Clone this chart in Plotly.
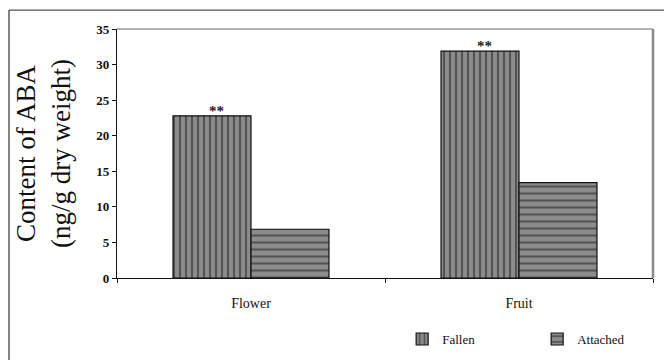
import plotly.graph_objects as go

categories = ["Flower", "Fruit"]
fallen = [22.8, 31.9]
attached = [6.85, 13.4]
sig_labels = ["**", "**"]
y_ticks = [0, 5, 10, 15, 20, 25, 30, 35]

serif = "Liberation Serif, Times New Roman, serif"

fig = go.Figure()
fig.add_trace(go.Bar(
    x=categories, y=fallen, name="Fallen",
    marker=dict(color="#8a8a8a", line=dict(color="#111111", width=1.2),
                pattern=dict(shape="|", fgcolor="#1a1a1a", bgcolor="#8c8c8c", size=6, solidity=0.35)),
))
fig.add_trace(go.Bar(
    x=categories, y=attached, name="Attached",
    marker=dict(color="#8a8a8a", line=dict(color="#111111", width=1.2),
                pattern=dict(shape="-", fgcolor="#1a1a1a", bgcolor="#8c8c8c", size=7, solidity=0.3)),
))

for c, v, s in zip(categories, fallen, sig_labels):
    fig.add_annotation(x=c, y=v, text="<b>" + s + "</b>", showarrow=False, xshift=-35, yanchor="bottom", yshift=-5,
                       font=dict(family=serif, size=15, color="#222"))

# plot area border (top, right in gray)
fig.add_shape(type="line", xref="paper", yref="paper", x0=0, x1=1, y0=1, y1=1,
              line=dict(color="#9a9a9a", width=1.5))
fig.add_shape(type="line", xref="paper", yref="paper", x0=1, x1=1, y0=0, y1=1,
              line=dict(color="#8a8a8a", width=2.5))
# outer frame
fig.add_shape(type="line", xref="paper", yref="paper", x0=-0.2015, x1=1.04, y0=1.076, y1=1.076,
              line=dict(color="#555555", width=1.2))
fig.add_shape(type="line", xref="paper", yref="paper", x0=-0.2015, x1=-0.2015, y0=-0.33, y1=1.076,
              line=dict(color="#333333", width=1.2))

fig.update_layout(
    width=664, height=352,
    margin=dict(l=109, r=19, t=21, b=82, autoexpand=False),
    paper_bgcolor="white", plot_bgcolor="white",
    barmode="group", bargap=0.418, bargroupgap=0,
    font=dict(family=serif, color="#111"),
    showlegend=True,
    legend=dict(orientation="h", x=0.532, y=-0.185, xanchor="left", yanchor="top",
                font=dict(family=serif, size=13, color="#111"), itemwidth=30,
                entrywidth=90, traceorder="normal", tracegroupgap=0),
    xaxis=dict(showline=True, linecolor="#111", linewidth=1.2, ticks="outside",
               tickson="boundaries", ticklen=4, tickcolor="#111", automargin=False,
               ticklabelstandoff=12,
               tickfont=dict(family=serif, size=14, color="#111")),
    yaxis=dict(range=[0, 35], tickvals=y_ticks, showline=True, linecolor="#111",
               linewidth=1.2, ticks="outside", ticklen=4, tickcolor="#111",
               showgrid=False, zeroline=False, automargin=False,
               tickfont=dict(family=serif, size=13, color="#111", weight="bold"),
               title=dict(text="Content of ABA<br>(ng/g dry weight)",
                          font=dict(family=serif, size=27, color="#111"), standoff=17)),
)

fig.write_html("out.html")
